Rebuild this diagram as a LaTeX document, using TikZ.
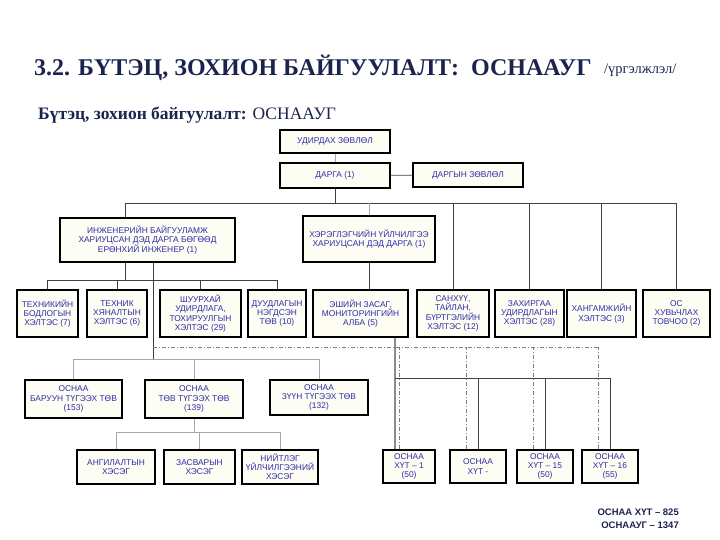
\documentclass[tikz,border=0pt]{standalone}
\usepackage{fontspec}
\setmainfont{Liberation Serif}
\setsansfont{Liberation Sans}
\usepackage{tikz}
\usetikzlibrary{calc}
\definecolor{titlenavy}{RGB}{27,36,78}
\definecolor{unitblue}{RGB}{45,45,170}
\definecolor{unitfill}{RGB}{253,253,243}

\begin{document}
\begin{tikzpicture}[x=1pt,y=-1pt]
    \tikzstyle{unit}=[draw=black,line width=1.6pt,fill=unitfill,text=unitblue,font=\fontsize{8.4}{9.2}\selectfont\sffamily,align=center,inner sep=1pt]
    \tikzstyle{link}=[draw=black!75,line width=0.6pt]
    \tikzstyle{faint link}=[draw=black!35,line width=0.6pt]
    \tikzstyle{func link}=[draw=black!50,line width=0.6pt,dash pattern=on 4pt off 2pt on 1pt off 2pt]
    \useasboundingbox (0,0) rectangle (720,540);

    % Headings
    \node[anchor=west,inner sep=0pt,text=titlenavy,font=\fontsize{24}{26}\selectfont\bfseries] (title) at (34,68) {3.2. БҮТЭЦ, ЗОХИОН БАЙГУУЛАЛТ:\ \ ОСНААУГ};
    \node[anchor=west,inner sep=0pt,text=titlenavy,font=\fontsize{14.5}{16}\selectfont] (cont) at (604,70) {/үргэлжлэл/};
    \node[anchor=west,inner sep=0pt,text=titlenavy,font=\fontsize{17.5}{19}\selectfont] (sub) at (38,115) {\textbf{Бүтэц, зохион байгуулалт:} ОСНААУГ};

    % Top management
    \node[unit,minimum width=110pt,minimum height=23pt] (udirdah) at (335,141.5) {УДИРДАХ ЗӨВЛӨЛ};
    \node[unit,minimum width=110pt,minimum height=25pt] (darga) at (335,175.5) {ДАРГА (1)};
    \node[unit,minimum width=110pt,minimum height=24pt] (dzovlol) at (468,175) {ДАРГЫН ЗӨВЛӨЛ};

    % Deputies
    \node[unit,minimum width=175pt,minimum height=44pt] (inzh) at (147.5,240) {ИНЖЕНЕРИЙН БАЙГУУЛАМЖ\\ХАРИУЦСАН ДЭД ДАРГА БӨГӨӨД\\ЕРӨНХИЙ ИНЖЕНЕР (1)};
    \node[unit,minimum width=132pt,minimum height=46pt] (hereg) at (369,239) {ХЭРЭГЛЭГЧИЙН ҮЙЛЧИЛГЭЭ\\ХАРИУЦСАН ДЭД ДАРГА (1)};

    % Departments
    \node[unit,minimum width=61pt,minimum height=47pt] (tehbod) at (47.5,313.5) {ТЕХНИКИЙН\\БОДЛОГЫН\\ХЭЛТЭС (7)};
    \node[unit,minimum width=60pt,minimum height=47pt] (tehhyan) at (117,313.5) {ТЕХНИК\\ХЯНАЛТЫН\\ХЭЛТЭС (6)};
    \node[unit,minimum width=81pt,minimum height=47pt] (shuurhai) at (200.5,313.5) {ШУУРХАЙ\\УДИРДЛАГА,\\ТОХИРУУЛГЫН\\ХЭЛТЭС (29)};
    \node[unit,minimum width=58pt,minimum height=47pt] (duudlaga) at (277,313.5) {ДУУДЛАГЫН\\НЭГДСЭН\\ТӨВ (10)};
    \node[unit,minimum width=95pt,minimum height=47pt] (eshiin) at (360.5,313.5) {ЭШИЙН ЗАСАГ,\\МОНИТОРИНГИЙН\\АЛБА (5)};
    \node[unit,minimum width=72pt,minimum height=47pt] (sanhuu) at (453,313.5) {САНХҮҮ,\\ТАЙЛАН,\\БҮРТГЭЛИЙН\\ХЭЛТЭС (12)};
    \node[unit,minimum width=69pt,minimum height=47pt] (zahirgaa) at (529.5,313.5) {ЗАХИРГАА\\УДИРДЛАГЫН\\ХЭЛТЭС (28)};
    \node[unit,minimum width=69pt,minimum height=47pt] (hangamj) at (601.5,313.5) {ХАНГАМЖИЙН\\ХЭЛТЭС (3)};
    \node[unit,minimum width=67pt,minimum height=47pt] (os) at (676.5,313.5) {ОС\\ХУВЬЧЛАХ\\ТОВЧОО (2)};

    % Distribution centres
    \node[unit,minimum width=97pt,minimum height=38pt] (baruun) at (73.5,399) {ОСНАА\\БАРУУН ТҮГЭЭХ ТӨВ\\(153)};
    \node[unit,minimum width=98pt,minimum height=38pt] (tov) at (194,399) {ОСНАА\\ТӨВ ТҮГЭЭХ ТӨВ\\(139)};
    \node[unit,minimum width=98pt,minimum height=35pt] (zuun) at (319,397.5) {ОСНАА\\ЗҮҮН ТҮГЭЭХ ТӨВ\\(132)};

    % Sections and ХҮТ
    \node[unit,minimum width=78pt,minimum height=34pt] (angilal) at (116,467) {АНГИЛАЛТЫН\\ХЭСЭГ};
    \node[unit,minimum width=71pt,minimum height=34pt] (zasvar) at (199.5,467) {ЗАСВАРЫН\\ХЭСЭГ};
    \node[unit,minimum width=76pt,minimum height=34pt] (niitleg) at (280,467) {НИЙТЛЭГ\\ҮЙЛЧИЛГЭЭНИЙ\\ХЭСЭГ};
    \node[unit,minimum width=52pt,minimum height=33pt] (hut1) at (409,466.5) {ОСНАА\\ХҮТ – 1\\(50)};
    \node[unit,minimum width=56pt,minimum height=33pt] (hut) at (478,466.5) {ОСНАА\\ХҮТ -};
    \node[unit,minimum width=56pt,minimum height=33pt] (hut15) at (545,466.5) {ОСНАА\\ХҮТ – 15\\(50)};
    \node[unit,minimum width=56pt,minimum height=33pt] (hut16) at (610,466.5) {ОСНАА\\ХҮТ – 16\\(55)};

    % Totals
    \node[anchor=east,inner sep=0pt,align=right,text=titlenavy,font=\fontsize{9.5}{13}\selectfont\sffamily\bfseries] (total) at (679,519) {ОСНАА ХҮТ – 825\\ОСНААУГ – 1347};

    % Connections, top
    \draw[faint link] (udirdah) -- (darga);
    \draw[link] (darga) -- (dzovlol);
    \coordinate (tb-l) at (125,203);
    \coordinate (tb-r) at (676.5,203);
    \draw[link] (tb-l) -- (tb-r);
    \draw[link] (darga.south) -- (darga.south |- tb-l);
    \draw[link] (tb-l) -- (tb-l |- inzh.north);
    \draw[faint link] (hereg.north) -- (hereg.north |- tb-l);
    \foreach \n in {sanhuu,zahirgaa,hangamj,os}
        \draw[link] (\n.north) -- (\n.north |- tb-l);

    % Connections, departments
    \coordinate (ib) at (125,280);
    \draw[link] (ib |- inzh.south) -- (ib);
    \draw[link] (tehbod.north |- ib) -- (duudlaga.north |- ib);
    \foreach \n in {tehbod,tehhyan,shuurhai,duudlaga}
        \draw[link] (\n.north) -- (\n.north |- ib);
    \draw[link] (eshiin.north -| hereg.south) -- (hereg.south);

    % Connections, distribution centres
    \coordinate (ob) at (153,359);
    \draw[link] (inzh.south -| ob) -- (ob);
    \draw[faint link] (baruun.north |- ob) -- (zuun.north |- ob);
    \foreach \n in {baruun,tov,zuun}
        \draw[faint link] (\n.north) -- (\n.north |- ob);
    \coordinate (lb) at (199,432);
    \draw[faint link] (tov.south) -- (tov.south |- lb);
    \draw[faint link] (angilal.north |- lb) -- (niitleg.north |- lb);
    \foreach \n in {angilal,zasvar,niitleg}
        \draw[faint link] (\n.north) -- (\n.north |- lb);

    % Connections, ХҮТ
    \coordinate (db) at (153,347);
    \foreach \n in {hut1,hut,hut15,hut16}
        \coordinate (t-\n) at ($(\n.north west)+(17,0)$);
    \draw[func link] (db) -- (t-hut16 |- db);
    \foreach \n in {hut1,hut,hut15,hut16}
        \draw[func link] (t-\n) -- (t-\n |- db);
    \coordinate (ev) at (395,378);
    \draw[draw=black!45,line width=1.5pt] (eshiin.south -| ev) -- (ev |- hut1.north);
    \draw[link] (ev) -- (hut16.north |- ev);
    \foreach \n in {hut,hut15,hut16}
        \draw[link] (\n.north) -- (\n.north |- ev);
\end{tikzpicture}
\end{document}
